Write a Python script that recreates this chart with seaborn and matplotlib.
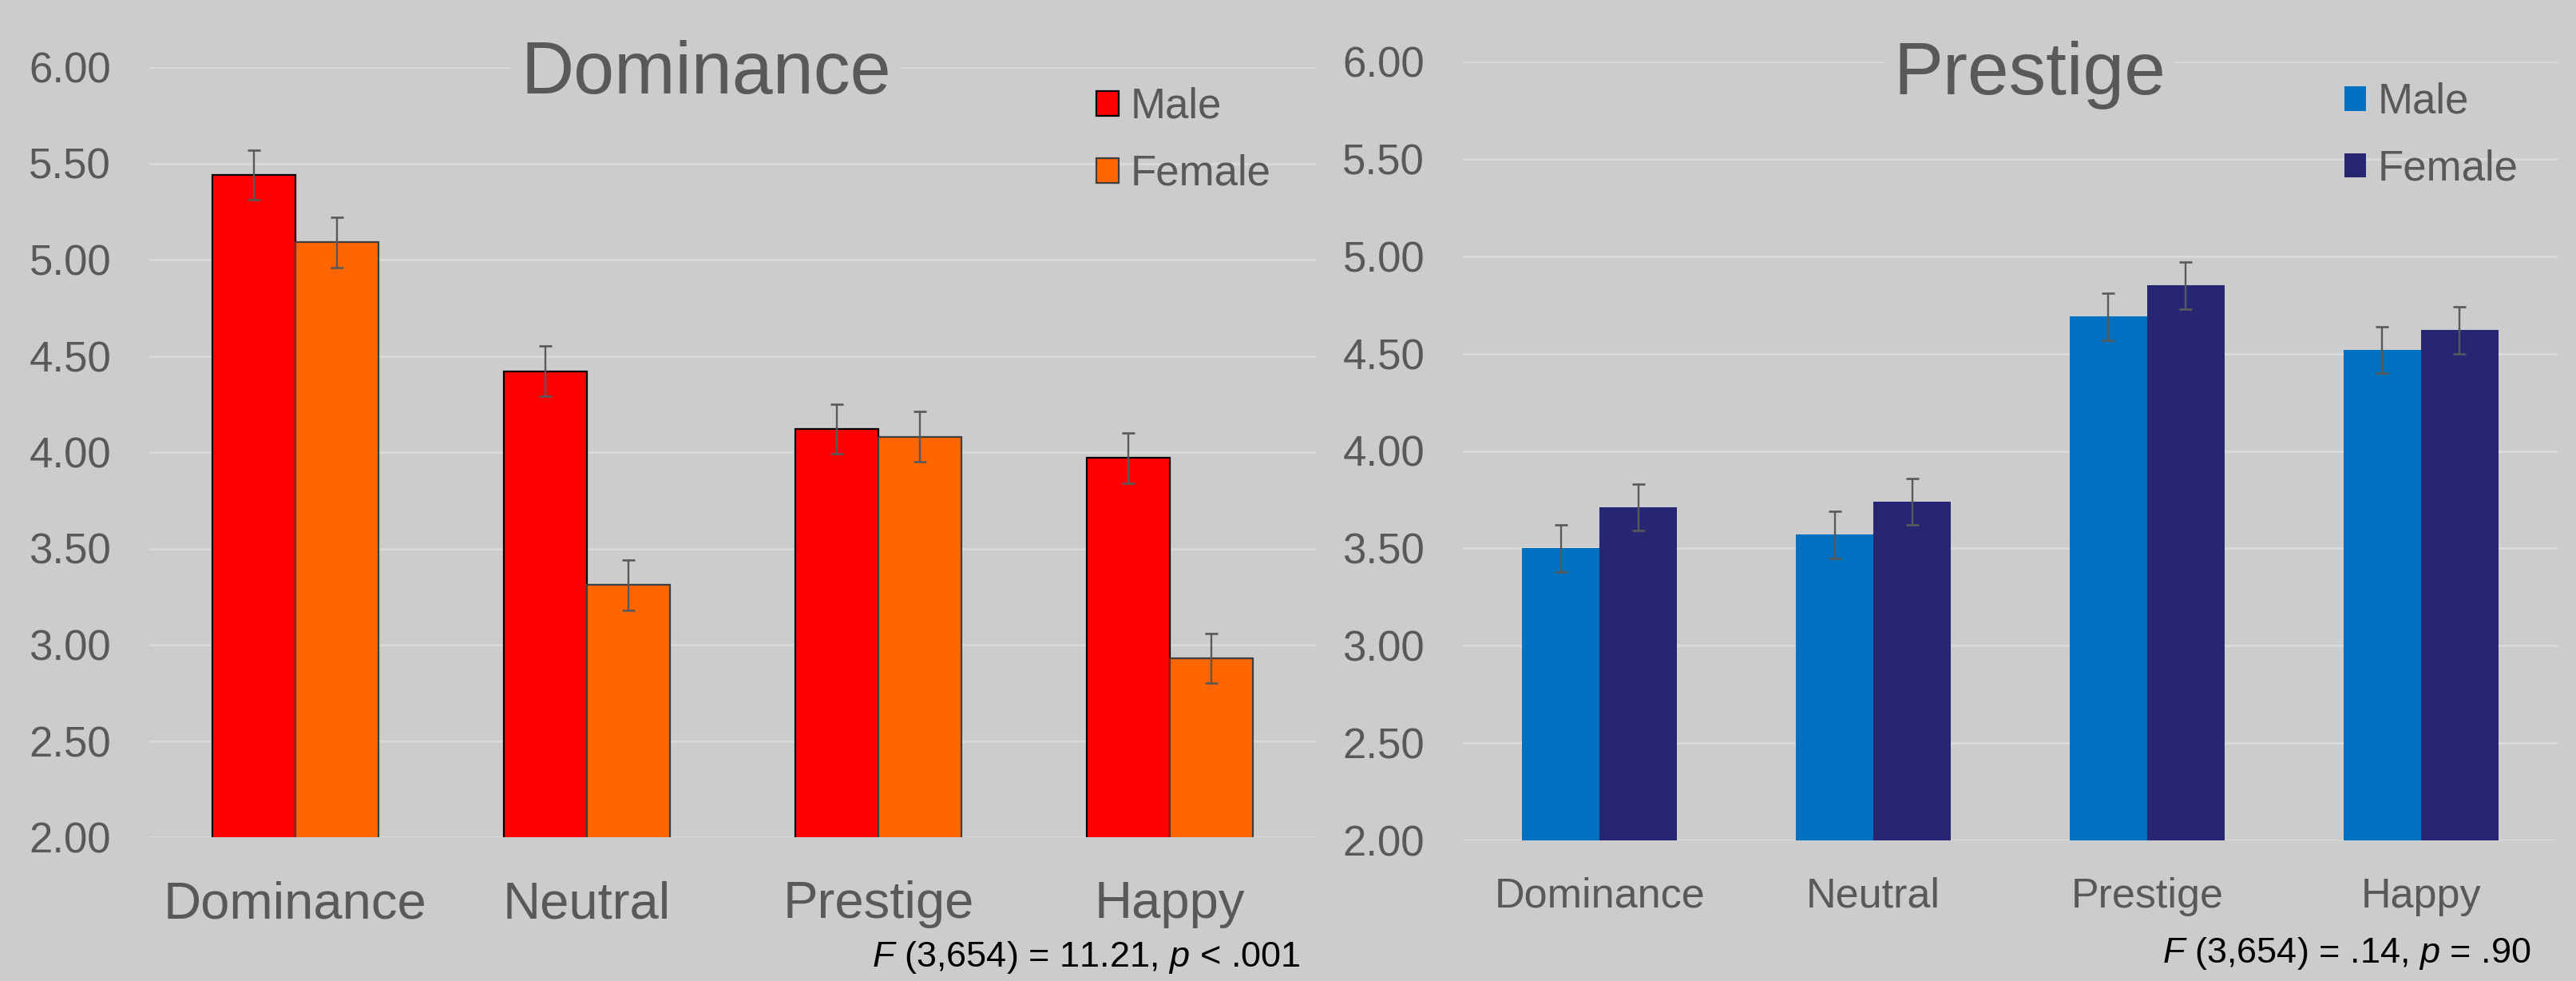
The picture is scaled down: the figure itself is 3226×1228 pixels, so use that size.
import matplotlib
matplotlib.use("Agg")
import matplotlib.pyplot as plt
from matplotlib.patches import Patch
import pandas as pd
import seaborn as sns

# ---------------------------------------------------------------- data
conditions = ["Dominance", "Neutral", "Prestige", "Happy"]
sexes = ["Male", "Female"]

# Dominance ratings (mean, standard error) by target expression and sex
dom_male = [5.44, 4.42, 4.12, 3.97]
dom_female = [5.09, 3.31, 4.08, 2.93]
dom_male_err = [0.13, 0.13, 0.13, 0.13]
dom_female_err = [0.13, 0.13, 0.13, 0.13]

# Prestige ratings (mean, standard error) by target expression and sex
pre_male = [3.50, 3.57, 4.69, 4.52]
pre_female = [3.71, 3.74, 4.85, 4.62]
pre_male_err = [0.12, 0.12, 0.12, 0.12]
pre_female_err = [0.12, 0.12, 0.12, 0.12]

y_ticks = [2.00, 2.50, 3.00, 3.50, 4.00, 4.50, 5.00, 5.50, 6.00]
y_tick_labels = ["2.00", "2.50", "3.00", "3.50", "4.00", "4.50", "5.00", "5.50", "6.00"]

dom_stats = r"$F$ (3,654) = 11.21, $p$ < .001"
pre_stats = r"$F$ (3,654) = .14, $p$ = .90"

# ---------------------------------------------------------------- style
BG = "#cccccc"
GRID = "#d9d9d9"
TEXT = "#595959"
ERR = "#595959"

sns.set_theme(style="white", rc={"axes.facecolor": BG, "figure.facecolor": BG})
plt.rcParams["font.family"] = ["Liberation Sans", "DejaVu Sans"]
plt.rcParams["mathtext.fontset"] = "custom"
plt.rcParams["mathtext.rm"] = "Liberation Sans"
plt.rcParams["mathtext.it"] = "Liberation Sans:italic"

W, H, DPI = 3226, 1228, 100
fig = plt.figure(figsize=(W / DPI, H / DPI), dpi=DPI, facecolor=BG)


def px_axes(x0, x1, ytop, ybot):
    return fig.add_axes([x0 / W, 1 - ybot / H, (x1 - x0) / W, (ybot - ytop) / H])


def fx(x):
    return x / W


def fy(y):
    return 1 - y / H


def panel(ax, male, female, male_err, female_err, colors, edges, width,
          xlabel_size, xpad):
    df = pd.DataFrame({
        "condition": conditions * 2,
        "sex": ["Male"] * len(conditions) + ["Female"] * len(conditions),
        "rating": male + female,
    })
    sns.barplot(data=df, x="condition", y="rating", hue="sex",
                order=conditions, hue_order=sexes, palette=colors,
                width=width, errorbar=None, saturation=1, linewidth=0,
                legend=False, ax=ax, zorder=2)
    for cont, edge, err in zip(ax.containers, edges, [male_err, female_err]):
        xs, ys = [], []
        for bar in cont:
            if edge is not None:
                bar.set_edgecolor(edge)
                bar.set_linewidth(1.6)
            xs.append(bar.get_x() + bar.get_width() / 2)
            ys.append(bar.get_height())
        ax.errorbar(xs, ys, yerr=err, fmt="none", ecolor=ERR, elinewidth=1.7,
                    capsize=5.8, capthick=1.9, zorder=5)

    ax.set_xlim(-0.5, len(conditions) - 0.5)
    ax.set_ylim(2, 6)
    ax.set_yticks(y_ticks)
    ax.set_yticklabels(y_tick_labels)
    ax.set_xlabel("")
    ax.set_ylabel("")
    ax.set_axisbelow(True)
    ax.yaxis.grid(True, color=GRID, linewidth=2.2)
    ax.xaxis.grid(False)
    for s in ax.spines.values():
        s.set_visible(False)
    ax.tick_params(axis="y", length=0, pad=34.5, labelsize=38, labelcolor=TEXT)
    ax.tick_params(axis="x", length=0, pad=xpad, labelsize=xlabel_size,
                   labelcolor=TEXT)


# ---------------------------------------------------------------- left panel
ax1 = px_axes(187, 1648, 84, 1048)
panel(ax1, dom_male, dom_female, dom_male_err, dom_female_err,
      colors=["#ff0000", "#ff6600"], edges=["#000000", "#404040"],
      width=0.57, xlabel_size=47, xpad=39)

fig.text(fx(884), fy(117), "Dominance", ha="center", va="baseline",
         fontsize=66, color=TEXT, zorder=10,
         bbox=dict(facecolor=BG, edgecolor="none", pad=8))

ax1.legend(handles=[Patch(facecolor="#ff0000", edgecolor="#000000", linewidth=1.6),
                    Patch(facecolor="#ff6600", edgecolor="#404040", linewidth=1.6)],
           labels=sexes, loc="upper left", bbox_to_anchor=(fx(1373), fy(109)),
           bbox_transform=fig.transFigure, frameon=False, fontsize=38,
           handlelength=0.53, handleheight=0.53, handletextpad=0.27,
           labelspacing=0.64, borderpad=0, borderaxespad=0, labelcolor=TEXT)

fig.text(fx(1629), fy(1210), dom_stats, ha="right", va="baseline",
         fontsize=32.5, color="black")

# ---------------------------------------------------------------- right panel
ax2 = px_axes(1832, 3203, 77, 1052)
panel(ax2, pre_male, pre_female, pre_male_err, pre_female_err,
      colors=["#0070c0", "#262673"], edges=[None, None],
      width=0.566, xlabel_size=37.5, xpad=33)

fig.text(fx(2542), fy(118), "Prestige", ha="center", va="baseline",
         fontsize=67, color=TEXT, zorder=10,
         bbox=dict(facecolor=BG, edgecolor="none", pad=8))

ax2.legend(handles=[Patch(facecolor="#0070c0", edgecolor="none"),
                    Patch(facecolor="#262673", edgecolor="none")],
           labels=sexes, loc="upper left", bbox_to_anchor=(fx(2936), fy(103)),
           bbox_transform=fig.transFigure, frameon=False, fontsize=38,
           handlelength=0.52, handleheight=0.52, handletextpad=0.27,
           labelspacing=0.64, borderpad=0, borderaxespad=0, labelcolor=TEXT)

fig.text(fx(3170), fy(1205), pre_stats, ha="right", va="baseline",
         fontsize=32.5, color="black")

fig.savefig("out.png", dpi=DPI, facecolor=BG)
